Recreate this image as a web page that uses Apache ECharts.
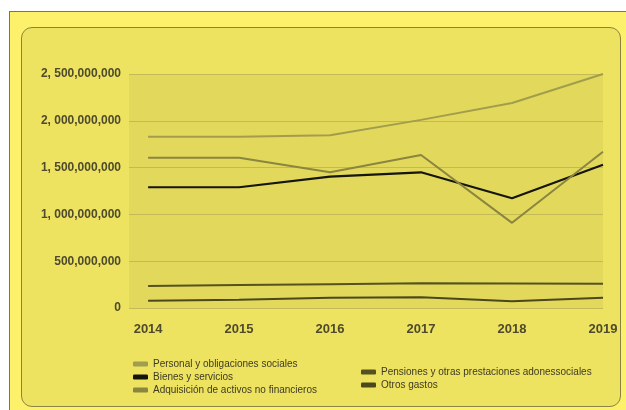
<!DOCTYPE html>
<html><head><meta charset="utf-8">
<script src="https://cdn.jsdelivr.net/npm/echarts@6/dist/echarts.min.js"></script>
<style>
html,body{margin:0;padding:0;background:#fff;width:626px;height:410px;overflow:hidden;}
#outer{position:absolute;left:9px;top:11px;width:640px;height:420px;background:#fdf06b;border:1.5px solid #4f74c8;}
#panel{position:absolute;left:21px;top:27px;width:598px;height:378px;background:#eee261;border:1.5px solid #8a8442;border-radius:11px;}
#chart{position:absolute;left:0;top:0;width:626px;height:410px;}
</style></head>
<body>
<div id="outer"></div><div id="panel"></div>
<div id="chart"></div>
<script>
const years = [2014, 2015, 2016, 2017, 2018, 2019];
const yTicks = [0, 500000000, 1000000000, 1500000000, 2000000000, 2500000000];
const personal = [1830000000, 1830000000, 1845000000, 2010000000, 2190000000, 2500000000];
const bienes = [1290000000, 1290000000, 1403000000, 1450000000, 1172000000, 1530000000];
const adquisicion = [1606000000, 1606000000, 1450000000, 1635000000, 910000000, 1670000000];
const pensiones = [235000000, 245000000, 255000000, 265000000, 262000000, 258000000];
const otros = [78000000, 88000000, 110000000, 115000000, 72000000, 110000000];
const names = ['Personal y obligaciones sociales','Bienes y servicios','Adquisición de activos no financieros','Pensiones y otras prestaciones adonessociales','Otros gastos'];

const colors = ['#a29d4c','#15150c','#8a853f','#55521f','#4a481c'];
const seriesVals = [personal, bienes, adquisicion, pensiones, otros];

function fmtY(v){
  let s = Math.round(v).toString().replace(/\B(?=(\d{3})+(?!\d))/g, ',');
  if (v >= 1e9) s = s.replace(',', ', ');
  return s;
}

const chart = echarts.init(document.getElementById('chart'), null, {renderer:'canvas'});
chart.setOption({
  backgroundColor: 'transparent',
  animation: false,
  textStyle: {fontFamily: 'Liberation Sans, Arial, sans-serif'},
  grid: {left: 129, right: 23, top: 74, bottom: 102, show: true, backgroundColor: '#e2d85c', borderWidth: 0},
  xAxis: {
    type: 'value', min: 2013.79, max: 2019,
    axisLine: {show: false}, axisTick: {show: false}, splitLine: {show: false},
    axisLabel: {customValues: years, formatter: v => String(v), color: '#4d4b2c', fontWeight: 'bold', fontSize: 13, margin: 15}
  },
  yAxis: {
    type: 'value', min: 0, max: 2500000000, interval: 500000000,
    axisLine: {show: false}, axisTick: {show: false},
    splitLine: {lineStyle: {color: '#c3ba55', width: 1}},
    axisLabel: {formatter: fmtY, color: '#4d4b2c', fontWeight: 'bold', fontSize: 12, margin: 8}
  },
  legend: [
    {data: names.slice(0,3), orient: 'vertical', left: 128, top: 354, icon: 'roundRect', itemWidth: 15, itemHeight: 5, itemGap: 3,
     textStyle: {fontSize: 10, color: '#3d3b22'}},
    {data: names.slice(3), orient: 'vertical', left: 356, top: 362, icon: 'roundRect', itemWidth: 15, itemHeight: 5, itemGap: 3,
     textStyle: {fontSize: 10, color: '#3d3b22'}}
  ],
  series: names.map((n, i) => ({
    name: n, type: 'line', showSymbol: false, color: colors[i],
    lineStyle: {width: i === 1 ? 2.2 : 2, color: colors[i]},
    data: years.map((y, j) => [y, seriesVals[i][j]])
  }))
});
</script>
</body></html>
